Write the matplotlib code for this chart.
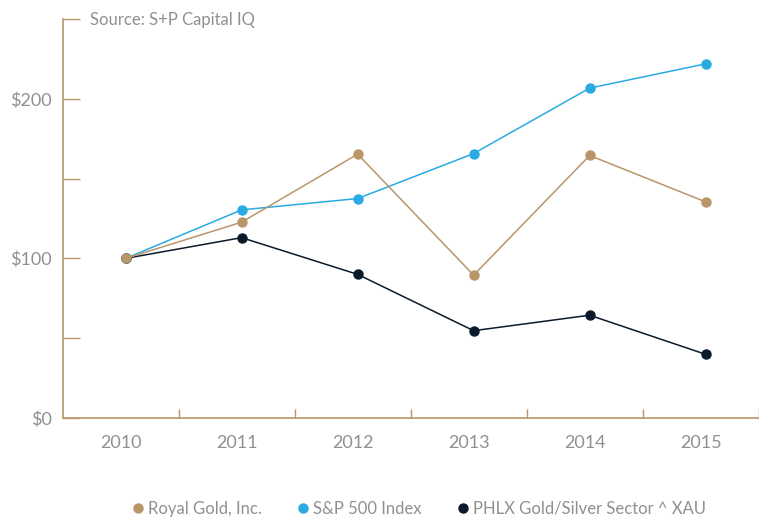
import numpy as np
import matplotlib.pyplot as plt
from matplotlib.lines import Line2D

years = ['2010', '2011', '2012', '2013', '2014', '2015']
royal_gold = [100, 122.7, 165.3, 89.5, 164.5, 135.4]
sp500 = [100, 130.4, 137.5, 165.7, 206.7, 221.9]
phlx = [100, 113.0, 90.0, 54.7, 64.4, 39.9]
names = ['Royal Gold, Inc.', 'S&P 500 Index', 'PHLX Gold/Silver Sector ^ XAU']

GOLD = '#b9966a'
BLUE = '#29abe2'
NAVY = '#0b1a2b'
GREY = '#909090'


def main():
    plt.rcParams['font.family'] = ['Lato', 'DejaVu Sans']
    fig = plt.figure(figsize=(7.59, 5.19), dpi=100)
    ax = fig.add_axes([63 / 759, 101 / 519, 696 / 759, 399 / 519])

    x = np.arange(len(years))
    ax.plot(x, sp500, color=BLUE, lw=1.1, marker='o', ms=6.5, zorder=3)
    ax.plot(x, phlx, color=NAVY, lw=1.1, marker='o', ms=6.5, zorder=3)
    ax.plot(x, royal_gold, color=GOLD, lw=1.1, marker='o', ms=6.5, zorder=4)

    ax.set_xlim(-0.54, 5.46)
    ax.set_ylim(0, 250)

    for s in ['top', 'right']:
        ax.spines[s].set_visible(False)
    for s in ['left', 'bottom']:
        ax.spines[s].set_color(GOLD)
        ax.spines[s].set_linewidth(1.2)

    ax.set_yticks([0, 50, 100, 150, 200, 250])
    ax.set_yticklabels(['$0', '', '$100', '', '$200', ''])
    ax.tick_params(axis='y', direction='in', length=12.5, width=1, color=GOLD,
                   labelcolor=GREY, labelsize=13, pad=8)

    ax.set_xticks(x - 0.04)
    ax.set_xticklabels(years)
    ax.tick_params(axis='x', length=0, labelcolor=GREY, labelsize=13, pad=12)
    ax.set_xticks(x + 0.46, minor=True)
    ax.tick_params(axis='x', which='minor', direction='in', length=6.5, width=1, color=GOLD)

    fig.text(90 / 759, 1 - 20 / 519, 'Source: S+P Capital IQ', color=GREY,
             fontsize=12, va='center', ha='left')

    handles = [Line2D([], [], ls='none', marker='o', ms=6.5, color=c) for c in (GOLD, BLUE, NAVY)]
    fig.legend(handles, names, loc='center', bbox_to_anchor=(418 / 759, 10 / 519), ncol=3,
               frameon=False, handletextpad=0.1, columnspacing=2.0, fontsize=12,
               labelcolor=GREY, handlelength=1.0)

    fig.savefig('out.png', dpi=100)


if __name__ == '__main__':
    main()
